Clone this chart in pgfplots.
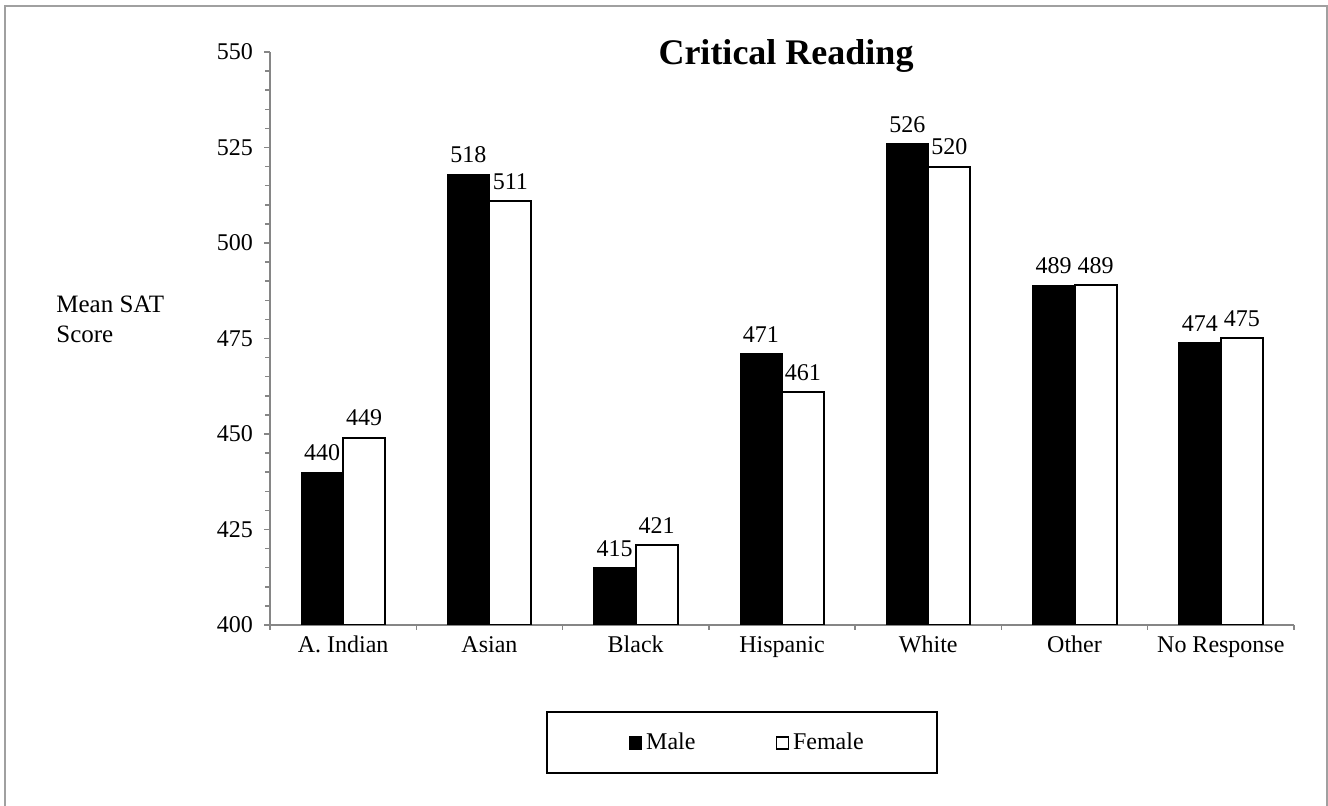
\documentclass[border=0pt]{standalone}
\usepackage{fontspec}
\setmainfont{Liberation Serif}
\usepackage{pgfplots}
\pgfplotsset{compat=1.18}
\definecolor{axgray}{HTML}{868686}
\definecolor{bordergray}{HTML}{A0A0A0}
\begin{document}
\begin{tikzpicture}[font=\fontsize{12}{14.4}\selectfont]
\path[use as bounding box] (0,0) rectangle (664pt,403pt);
\draw[bordergray, line width=0.75pt] (2.5pt,-1pt) -- (2.5pt,400pt) -- (663.5pt,400pt) -- (663.5pt,-1pt);
\begin{axis}[
  at={(135pt,90.5pt)}, anchor=south west,
  scale only axis, width=512pt, height=286.5pt,
  xmin=-0.5, xmax=6.5, ymin=400, ymax=550,
  axis x line*=bottom, axis y line*=left,
  axis line style={axgray, line width=0.75pt},
  ytick={400,425,...,550}, minor y tick num=4,
  tick align=outside, major tick length=3pt, minor tick length=2.5pt,
  tick style={axgray, line width=0.75pt},
  xtick={0,...,6},
  xticklabels={A. Indian, Asian, Black, Hispanic, White, Other, No Response},
  xticklabel style={text height=0.7em, text depth=0.22em},
  major x tick style={draw=none},
  minor xtick={-0.5,0.5,...,6.5},
  /pgf/number format/assume math mode=true,
  yticklabel style={xshift=-2pt},
  legend style={draw=none, fill=none, at={(0.467,-0.206)}, anchor=center,
    legend columns=2, font=\fontsize{12}{14.4}\selectfont,
    /tikz/every even column/.append style={column sep=38pt}},
  legend image code/.code={\draw[#1, line width=0.75pt] (0pt,-3pt) rectangle (6pt,3pt);},
]
\addplot[ybar, bar width=0.287, bar shift=-0.1435, fill=black, draw=black,
  nodes near coords,
  every node near coord/.append style={font=\fontsize{12}{14.4}\selectfont, yshift=2pt, xshift=-10.5pt, text=black}]
  coordinates {(0,440) (1,518) (2,415) (3,471) (4,526) (5,489) (6,474)};
\addlegendentry{Male}
\addplot[ybar, bar width=0.287, bar shift=0.1435, fill=white, draw=black, line width=1pt,
  nodes near coords,
  every node near coord/.append style={font=\fontsize{12}{14.4}\selectfont, yshift=2pt, xshift=10.5pt, text=black}]
  coordinates {(0,449) (1,511) (2,421) (3,461) (4,520) (5,489) (6,475)};
\addlegendentry{Female}
\end{axis}
\draw[black, line width=0.75pt] (273.5pt,16.5pt) rectangle (468.5pt,47pt);
\node[font=\bfseries\fontsize{18}{22}\selectfont, anchor=base] at (393pt,370.5pt) {Critical Reading};
\node[anchor=base west, inner sep=0pt, font=\fontsize{12.5}{14}\selectfont] at (28pt,246.5pt) {Mean SAT};
\node[anchor=base west, inner sep=0pt, font=\fontsize{12.5}{14}\selectfont] at (28pt,231.5pt) {Score};
\end{tikzpicture}
\end{document}
